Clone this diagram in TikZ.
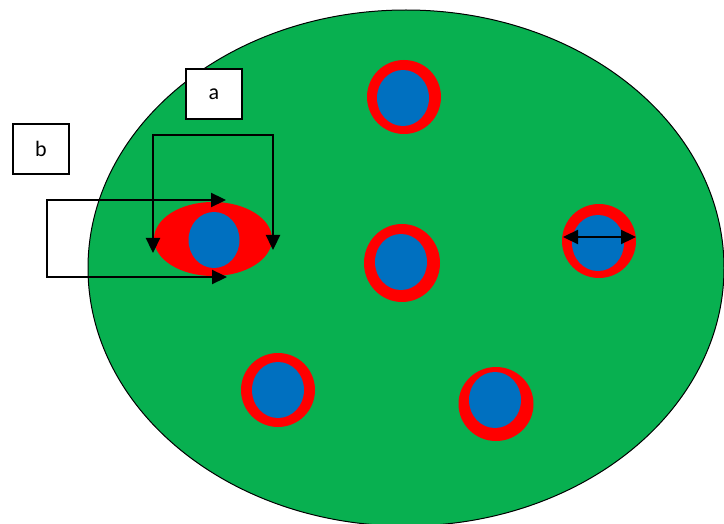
\documentclass[tikz,border=0pt]{standalone}
\usepackage{fontspec}
\setmainfont{Carlito}
\usetikzlibrary{arrows.meta,shapes.geometric}
\definecolor{cellgreen}{RGB}{8,176,80}
\definecolor{ringred}{RGB}{255,0,0}
\definecolor{nucblue}{RGB}{0,112,192}
\tikzset{
  ringcell/.style={ellipse, fill=ringred, inner sep=0pt, minimum width=74pt, minimum height=74pt},
  nucleus/.style={ellipse, fill=nucblue, inner sep=0pt, minimum width=52pt, minimum height=56pt},
  labelbox/.style={draw=black, line width=1.6pt, fill=white, inner sep=0pt, minimum width=56pt, minimum height=50pt, font=\fontsize{22}{24}\selectfont},
  conn/.style={line width=2.3pt, line join=miter, {Triangle[length=15pt,width=14pt]}-{Triangle[length=15pt,width=14pt]}}
}
\begin{document}
\begin{tikzpicture}[x=1pt,y=-1pt]
\useasboundingbox (0,0) rectangle (724,524);
\fill[white] (0,0) rectangle (724,524);
\clip (0,0) rectangle (724,524);
% big cell
\node[ellipse, draw=black, line width=1pt, fill=cellgreen, inner sep=0pt, minimum width=636pt, minimum height=516pt] (cell) at (406,268) {};
% cells with rings
\node[ringcell] (r1) at (404,97) {};
\node[nucleus] (n1) at (403,98) {};
\node[ringcell, minimum width=76pt, minimum height=78pt] (r2) at (402,263) {};
\node[nucleus] (n2) at (401,262) {};
\node[ringcell] (r3) at (599,241) {};
\node[nucleus] (n3) at (598,243) {};
\node[ringcell] (r4) at (278,390) {};
\node[nucleus] (n4) at (278,390) {};
\node[ringcell, minimum width=75pt] (r5) at (496,404) {};
\node[nucleus] (n5) at (495,400) {};
% left elongated cell
\node[ellipse, fill=ringred, inner sep=0pt, minimum width=118pt, minimum height=74pt] (r0) at (213,239) {};
\node[nucleus, minimum width=51pt] (n0) at (214,240) {};
% label boxes
\node[labelbox] (a) at (214,94) {a};
\node[labelbox] (b) at (41,149) {b};
% arrow a
\coordinate (aL) at (153,253);
\coordinate (aTL) at (153,135);
\coordinate (aTR) at (273,135);
\coordinate (aR) at (273,250);
\draw[conn] (aL) -- (aTL) -- (aTR) -- (aR);
% arrow b
\coordinate (bT) at (226,200);
\coordinate (bTL) at (47,200);
\coordinate (bBL) at (47,277);
\coordinate (bB) at (227,277);
\draw[conn] (bT) -- (bTL) -- (bBL) -- (bB);
% diameter arrow
\coordinate (dL) at (563,237);
\coordinate (dR) at (636,237);
\draw[conn] (dL) -- (dR);
\end{tikzpicture}
\end{document}
